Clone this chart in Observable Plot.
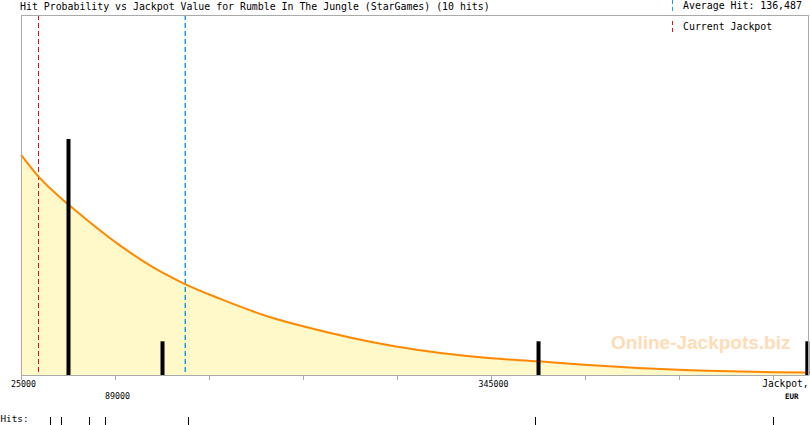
<!DOCTYPE html>
<html>
<head>
<meta charset="utf-8">
<script src="https://cdn.jsdelivr.net/npm/d3@7"></script>
<script src="https://cdn.jsdelivr.net/npm/@observablehq/plot@0.6"></script>
<style>
  body { margin: 0; background: #fff; }
  #wrap { position: relative; width: 810px; height: 425px; font-family: "DejaVu Sans Mono", monospace; }
  #title { position: absolute; left: 20px; top: 0px; font-size: 9.9px; line-height: 14px; color: #000; white-space: pre; }
  .leg { position: absolute; left: 670px; font-size: 9.9px; line-height: 14px; white-space: pre; display: flex; align-items: center; }
  .leg svg { margin-right: 8px; }
</style>
</head>
<body>
<div id="wrap">
  <div id="chart"></div>
  <div id="title">Hit Probability vs Jackpot Value for Rumble In The Jungle (StarGames) (10 hits)</div>
  <div class="leg" style="top:-1px"><svg width="5" height="12" shape-rendering="crispEdges"><line x1="2.5" x2="2.5" y1="0" y2="12" stroke="#1aa0ea" stroke-dasharray="4,3"/></svg>Average Hit: 136,487</div>
  <div class="leg" style="top:20px"><svg width="5" height="12" shape-rendering="crispEdges"><line x1="2.5" x2="2.5" y1="0" y2="12" stroke="#dd1111" stroke-dasharray="4,3"/></svg>Current Jackpot</div>
</div>
<script>
// jackpot values (EUR) where the fitted curve was read, and its height in hits
const curveX = [25000, 36000, 57000, 70000, 92000, 115000, 136000, 160000, 195000,
                216000, 280000, 345000, 377000, 408000, 472000, 537000, 561000];
const curveY = [6.53, 5.93, 5.07, 4.60, 3.86, 3.20, 2.72, 2.28, 1.72,
                1.47, 0.86, 0.51, 0.42, 0.32, 0.17, 0.10, 0.09];

// histogram bars (bin position, number of hits)
const binX = [57000, 121000, 377000, 560000];
const binCount = [7, 1, 1, 1];

// individual hits, shown in the strip below the axis
const hits = [44700, 44700, 52200, 71300, 71300, 82200, 82200, 138400, 375000, 537000];

const averageHit = 136487;
const currentJackpot = 36600;

const tickValues = [25000, 89000, 153000, 217000, 281000, 345000, 409000, 473000, 537000];
const labelsUpper = [25000, 345000];
const labelsLower = [89000];

const curve = curveX.map((x, i) => ({x, y: curveY[i]}));
const bins = binX.map((x, i) => ({x, n: binCount[i]}));

const chart = Plot.plot({
  width: 810,
  height: 425,
  marginTop: 15,
  marginBottom: 50,
  marginLeft: 21,
  marginRight: 2,
  style: {fontFamily: "DejaVu Sans Mono", fontSize: "8.3px", color: "#000", background: "#fff"},
  x: {domain: [25000, 560800], label: null},
  y: {domain: [0, 10.68], axis: null},
  marks: [
    Plot.areaY(curve, {x: "x", y: "y", fill: "#fff8c8", curve: "monotone-x"}),
    Plot.ruleX([currentJackpot], {stroke: "#dd1111", strokeDasharray: "5,3", shapeRendering: "crispEdges"}),
    Plot.ruleX([averageHit], {stroke: "#1aa0ea", strokeWidth: 1.5, strokeDasharray: "5,3"}),
    Plot.lineY(curve, {x: "x", y: "y", stroke: "#ff8800", strokeWidth: 2, curve: "monotone-x"}),
    Plot.text(["Online-Jackpots.biz"], {
      frameAnchor: "bottom-right", dx: -18, dy: -27, textAnchor: "end",
      fill: "#ffdcb6", fontFamily: "Liberation Sans", fontWeight: "bold", fontSize: 19
    }),
    Plot.ruleX(bins, {x: "x", y1: 0, y2: "n", stroke: "#000", strokeWidth: 4}),
    Plot.frame({stroke: "#aaa", shapeRendering: "crispEdges"}),
    Plot.axisX({ticks: tickValues, tickSize: 5, stroke: "#aaa", tickFormat: () => "", label: null}),
    Plot.text(labelsUpper, {x: d => d, text: d => String(d), frameAnchor: "bottom", dy: 11, dx: 2}),
    Plot.text(labelsLower, {x: d => d, text: d => String(d), frameAnchor: "bottom", dy: 23, dx: 2}),
    Plot.text(["Jackpot,"], {frameAnchor: "bottom-right", textAnchor: "end", dy: 11, fontSize: 9.6}),
    Plot.text(["EUR"], {frameAnchor: "bottom-right", textAnchor: "end", dx: -10, dy: 23, fontWeight: "bold", fontSize: 7.5}),
    Plot.text(["Hits:"], {frameAnchor: "bottom-left", textAnchor: "start", dx: -21, dy: 46, fontSize: 9.3}),
    Plot.ruleX(hits, {x: d => d, y1: -1.25, y2: -1.49, stroke: "#000", strokeWidth: 1, shapeRendering: "crispEdges"})
  ]
});

document.getElementById("chart").append(chart);
</script>
</body>
</html>
